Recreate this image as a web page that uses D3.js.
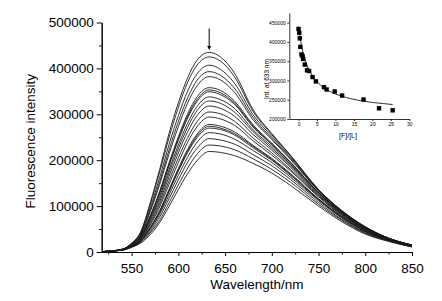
<!DOCTYPE html>
<html>
<head>
<meta charset="utf-8">
<script src="https://cdn.jsdelivr.net/npm/d3@7"></script>
<style>
  body { margin: 0; background: #fff; }
  svg { display: block; font-family: "Liberation Sans", Arial, sans-serif; }
  .axis path, .axis line { stroke: #000; stroke-width: 1; }
  .axis text { fill: #000; }
</style>
</head>
<body>
<div id="chart"></div>
<script>
// wavelengths (nm) at which the spectra were read
const wavelengths = [520, 540, 550, 560, 570, 580, 590, 600, 610, 620, 633, 645, 660, 680, 700, 720, 750, 775, 800, 825, 850];

// fluorescence intensity (x1000) for each titration step
const spectra = [
    [1, 6, 19, 45, 108, 180, 258, 325, 380, 418, 435, 425, 390, 310, 258, 211, 136, 90, 55, 30, 15],
    [1, 6, 19, 44, 104, 174, 249, 315, 370, 407, 425, 416, 382, 306, 256, 210, 136, 90, 55, 30, 15],
    [1, 6, 18, 41, 97, 162, 234, 297, 351, 388, 407, 398, 368, 299, 252, 207, 135, 89, 54, 30, 15],
    [1, 6, 17, 40, 92, 153, 222, 284, 336, 374, 393, 385, 357, 293, 248, 204, 134, 88, 53, 30, 15],
    [1, 6, 17, 38, 88, 147, 213, 273, 325, 362, 382, 375, 348, 288, 245, 202, 133, 88, 53, 30, 15],
    [1, 5, 16, 35, 79, 132, 194, 251, 301, 338, 358, 352, 329, 277, 237, 196, 130, 86, 52, 29, 14],
    [1, 5, 16, 35, 78, 130, 190, 247, 296, 332, 353, 347, 325, 274, 235, 195, 130, 86, 51, 29, 14],
    [1, 5, 15, 34, 76, 127, 187, 243, 292, 328, 349, 343, 322, 272, 234, 194, 129, 85, 51, 29, 14],
    [1, 5, 15, 33, 73, 121, 179, 233, 281, 317, 338, 332, 313, 266, 230, 191, 128, 84, 50, 29, 14],
    [1, 5, 15, 32, 70, 116, 172, 225, 272, 308, 329, 324, 305, 262, 226, 188, 126, 83, 50, 29, 14],
    [1, 5, 14, 31, 66, 110, 164, 216, 262, 297, 318, 313, 296, 256, 222, 185, 124, 82, 49, 28, 14],
    [1, 5, 14, 29, 62, 104, 155, 205, 249, 284, 305, 301, 285, 248, 216, 180, 122, 80, 48, 28, 13],
    [1, 5, 13, 28, 59, 98, 147, 195, 239, 273, 294, 290, 276, 242, 211, 177, 120, 79, 47, 27, 13],
    [1, 5, 13, 26, 54, 90, 136, 182, 224, 257, 278, 274, 262, 232, 204, 171, 116, 77, 46, 26, 13],
    [1, 5, 13, 26, 53, 88, 133, 179, 220, 253, 274, 270, 258, 230, 202, 169, 115, 76, 45, 26, 13],
    [1, 5, 12, 25, 52, 86, 131, 176, 217, 249, 270, 267, 255, 227, 200, 167, 114, 75, 45, 26, 13],
    [1, 4, 12, 24, 49, 82, 124, 167, 207, 239, 260, 257, 246, 221, 195, 163, 112, 74, 44, 26, 12],
    [1, 4, 11, 23, 45, 76, 116, 157, 196, 226, 247, 244, 235, 212, 188, 158, 108, 71, 42, 25, 12],
    [1, 4, 11, 21, 42, 69, 107, 146, 183, 213, 233, 231, 223, 203, 180, 152, 104, 69, 41, 24, 11],
    [1, 4, 10, 20, 38, 64, 99, 136, 171, 199, 219, 217, 210, 193, 172, 145, 100, 66, 39, 23, 11]
];

// inset: intensity at 633 nm vs [F]/[L]
const ratio = [0, 0.2, 0.35, 0.5, 0.8, 1.1, 1.25, 1.7, 2.3, 2.85, 3.8, 4.7, 6.9, 7.6, 9.8, 11.8, 17.6, 21.8, 25.5];
const intensity633 = [433500, 423800, 409200, 387200, 367400, 362900, 355900, 341200, 326300, 324500, 308800, 297500, 282600, 276600, 271400, 260900, 250500, 227700, 222500];

// fitted line in the inset, read at a few points
const fitX = [0, 0.5, 1, 2, 3, 4, 5, 7, 10, 13, 16, 20, 23, 25.5];
const fitY = [440000, 406000, 382000, 347000, 325000, 309000, 297000, 280000, 265000, 255500, 249000, 243000, 240000, 237500];

const yTicks = [0, 100000, 200000, 300000, 400000, 500000];
const xTicks = [550, 600, 650, 700, 750, 800, 850];
const insetYTicks = [200000, 250000, 300000, 350000, 400000, 450000];
const insetXTicks = [0, 5, 10, 15, 20, 25, 30];

const W = 442, H = 301;
const svg = d3.select("#chart").append("svg").attr("width", W).attr("height", H);

// main plot
const x = d3.scaleLinear().domain([518, 850]).range([101.7, 412]);
const y = d3.scaleLinear().domain([0, 500000]).range([252, 22.5]);

const xMinor = d3.range(525, 851, 25).filter(v => !xTicks.includes(v));
const yMinor = d3.range(50000, 500000, 100000);

svg.append("g").attr("class", "axis")
    .attr("transform", `translate(0,${y(0)})`)
    .call(d3.axisBottom(x).tickValues(xMinor).tickSize(2.5).tickSizeOuter(0).tickFormat(""));
svg.append("g").attr("class", "axis x-axis")
    .attr("transform", `translate(0,${y(0)})`)
    .call(d3.axisBottom(x).tickValues(xTicks).tickSize(4).tickPadding(7).tickSizeOuter(0).tickFormat(d3.format("d")))
    .selectAll("text").style("font-size", "13.5px");

svg.append("g").attr("class", "axis")
    .attr("transform", `translate(${x(518)},0)`)
    .call(d3.axisLeft(y).tickValues(yMinor).tickSize(2.5).tickSizeOuter(0).tickFormat(""));
svg.append("g").attr("class", "axis y-axis")
    .attr("transform", `translate(${x(518)},0)`)
    .call(d3.axisLeft(y).tickValues(yTicks).tickSize(5).tickPadding(3).tickSizeOuter(0).tickFormat(d3.format("d")))
    .selectAll("text").style("font-size", "13.5px");

const line = d3.line()
    .x((d, i) => x(wavelengths[i]))
    .y(d => y(d * 1000))
    .curve(d3.curveMonotoneX);

svg.append("g").selectAll("path.spectrum")
    .data(spectra)
    .enter().append("path")
    .attr("class", "spectrum")
    .attr("d", line)
    .attr("fill", "none")
    .attr("stroke", "#1a1a1a")
    .attr("stroke-width", 0.9);

// arrow marking 633 nm
svg.append("line")
    .attr("x1", x(633)).attr("x2", x(633))
    .attr("y1", y(487000)).attr("y2", y(446000))
    .attr("stroke", "#000").attr("stroke-width", 1);
svg.append("path")
    .attr("d", `M${x(633) - 2},${y(449000)} L${x(633) + 2},${y(449000)} L${x(633)},${y(440000)} Z`)
    .attr("fill", "#000");

svg.append("text")
    .attr("transform", `translate(35,${(y(0) + y(500000)) / 2 + 4}) rotate(-90)`)
    .attr("text-anchor", "middle")
    .style("font-size", "13.5px")
    .text("Fluorescence intensity");

svg.append("text")
    .attr("x", (x(518) + x(850)) / 2)
    .attr("y", 289)
    .attr("text-anchor", "middle")
    .style("font-size", "13.5px")
    .text("Wavelength/nm");

// inset
const ix = d3.scaleLinear().domain([-2.5, 30]).range([289.3, 409.3]);
const iy = d3.scaleLinear().domain([200000, 475000]).range([119, 13]);

svg.append("g").attr("class", "axis inset")
    .attr("transform", `translate(0,${iy(200000)})`)
    .call(d3.axisBottom(ix).tickValues(insetXTicks).tickSize(2).tickPadding(1.5).tickSizeOuter(0))
    .selectAll("text").style("font-size", "5px");
svg.append("g").attr("class", "axis inset")
    .attr("transform", `translate(${ix(-2.5)},0)`)
    .call(d3.axisLeft(iy).tickValues(insetYTicks).tickSize(2).tickPadding(1.5).tickSizeOuter(0).tickFormat(d3.format("d")))
    .selectAll("text").style("font-size", "5px");
svg.selectAll(".inset path, .inset line").style("stroke-width", 0.8);

svg.append("path")
    .datum(fitX)
    .attr("d", d3.line().x(d => ix(d)).y((d, i) => iy(fitY[i])).curve(d3.curveMonotoneX))
    .attr("fill", "none")
    .attr("stroke", "#333")
    .attr("stroke-width", 1);

svg.append("g").selectAll("rect")
    .data(ratio)
    .enter().append("rect")
    .attr("x", d => ix(d) - 2.2)
    .attr("y", (d, i) => iy(intensity633[i]) - 2.2)
    .attr("width", 4.4)
    .attr("height", 4.4)
    .attr("fill", "#000");

svg.append("text")
    .attr("transform", "translate(268.5,79) rotate(-90)")
    .attr("text-anchor", "middle")
    .style("font-size", "6.5px")
    .text("Int. at 633 nm");

svg.append("text")
    .attr("x", 348)
    .attr("y", 138)
    .attr("text-anchor", "middle")
    .style("font-size", "7px")
    .text("[F]/[L]");
</script>
</body>
</html>
